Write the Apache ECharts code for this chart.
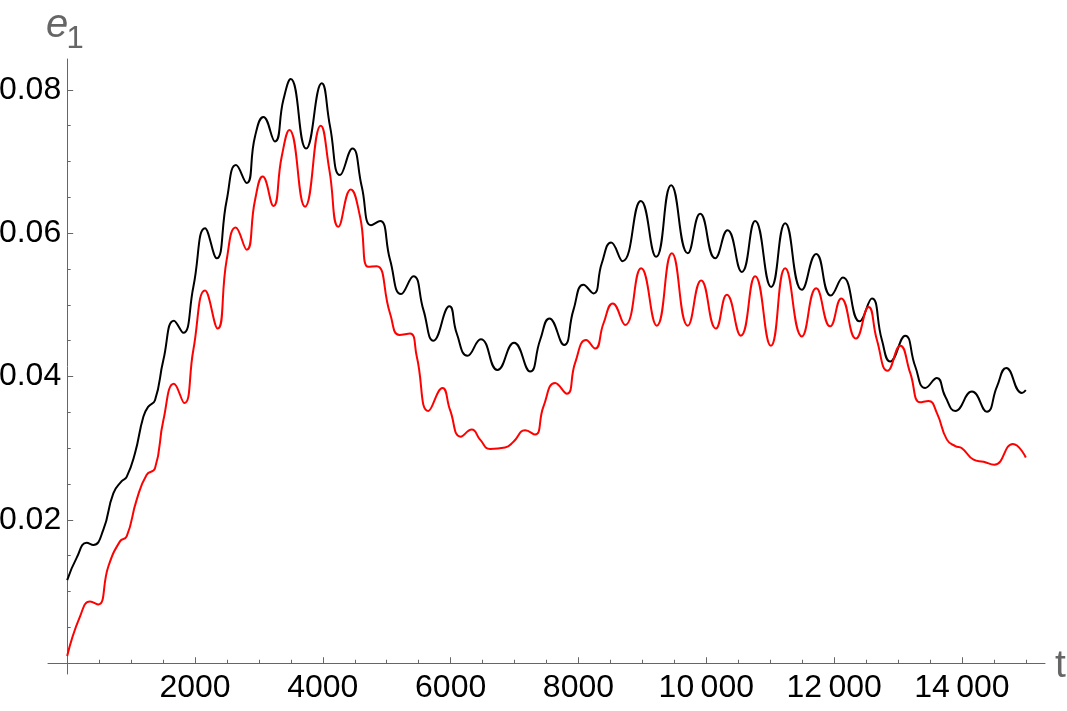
<!DOCTYPE html>
<html style="height: 100%">
    <head>
        <title>e1 vs t</title>
        <meta charset="utf-8">
    </head>
    <body style="height: 100%; margin: 0; background: #fff">
        <div id="container" style="width:1067px;height:711px"></div>

        <script type="text/javascript" src="https://cdn.jsdelivr.net/npm/echarts@6/dist/echarts.min.js"></script>
        <script type="text/javascript">
// black curve (upper)
var tBlack = [0, 148, 305, 409, 565, 722, 853, 931, 1061, 1192, 1270, 1374, 1505, 1671, 1817, 1974,
    2157, 2339, 2496, 2642, 2809, 2939, 3070, 3252, 3383, 3498, 3738, 3983, 4113, 4270, 4463, 4609,
    4755, 4896, 5052, 5224, 5418, 5574, 5731, 5981, 6096, 6263, 6472, 6732, 6993, 7244, 7400, 7546,
    7776, 7922, 8078, 8235, 8365, 8511, 8690, 8976, 9216, 9451, 9711, 9905, 10139, 10332, 10557, 10765,
    11016, 11235, 11496, 11720, 11950, 12138, 12398, 12591, 12748, 12878, 13113, 13270, 13426, 13609,
    13739, 13896, 14157, 14391, 14548, 14694, 14939, 15000];
var eBlack = [0.0116, 0.0147, 0.0168, 0.0165, 0.0186, 0.0237, 0.0254, 0.0260, 0.0293, 0.0344, 0.0358, 0.0367, 0.0423, 0.0478, 0.0461, 0.0525,
    0.0607, 0.0565, 0.0646, 0.0695, 0.0670, 0.0735, 0.0762, 0.0728, 0.0786, 0.0815, 0.0718, 0.0809, 0.0749, 0.0681, 0.0718, 0.0665,
    0.0611, 0.0617, 0.0563, 0.0515, 0.0540, 0.0493, 0.0450, 0.0498, 0.0460, 0.0429, 0.0452, 0.0409, 0.0447, 0.0407, 0.0451, 0.0481,
    0.0444, 0.0493, 0.0528, 0.0516, 0.0558, 0.0587, 0.0561, 0.0645, 0.0567, 0.0667, 0.0572, 0.0627, 0.0565, 0.0604, 0.0546, 0.0617,
    0.0525, 0.0614, 0.0521, 0.0571, 0.0513, 0.0538, 0.0477, 0.0509, 0.0451, 0.0421, 0.0457, 0.0414, 0.0384, 0.0398,
    0.0372, 0.0352, 0.0379, 0.0351, 0.0386, 0.0412, 0.0377, 0.0381];

// red curve (lower)
var tRed = [0, 200, 357, 487, 644, 826, 931, 1087, 1244, 1374, 1505, 1671, 1833, 1974, 2157, 2355,
    2496, 2637, 2809, 2939, 3059, 3226, 3357, 3477, 3722, 3967, 4103, 4244, 4437, 4583, 4713, 4844,
    5052, 5200, 5365, 5470, 5652, 5872, 5992, 6158, 6331, 6461, 6618, 6852, 6983, 7165, 7322, 7452,
    7635, 7818, 7948, 8120, 8261, 8391, 8537, 8730, 8981, 9226, 9461, 9711, 9920, 10150, 10322, 10541,
    10765, 11011, 11235, 11496, 11720, 11939, 12112, 12341, 12539, 12670, 12837, 13035, 13191, 13348,
    13478, 13609, 13765, 13896, 14000, 14183, 14339, 14506, 14798, 15000];
var eRed = [0.0010, 0.0065, 0.0086, 0.0082, 0.0135, 0.0170, 0.0177, 0.0228, 0.0263, 0.0272, 0.0339, 0.0390, 0.0363, 0.0437, 0.0520, 0.0467,
    0.0563, 0.0608, 0.0577, 0.0646, 0.0679, 0.0638, 0.0707, 0.0744, 0.0637, 0.0750, 0.0688, 0.0609, 0.0661, 0.0623, 0.0553, 0.0554,
    0.0488, 0.0458, 0.0460, 0.0428, 0.0352, 0.0384, 0.0353, 0.0316, 0.0326, 0.0312, 0.0299, 0.0301, 0.0309, 0.0325, 0.0319, 0.0358,
    0.0391, 0.0376, 0.0419, 0.0451, 0.0439, 0.0474, 0.0502, 0.0472, 0.0551, 0.0471, 0.0572, 0.0471, 0.0534, 0.0467, 0.0514, 0.0457,
    0.0540, 0.0443, 0.0551, 0.0456, 0.0523, 0.0470, 0.0509, 0.0453, 0.0497, 0.0451, 0.0408, 0.0443, 0.0405, 0.0364,
    0.0366, 0.0349, 0.0312, 0.0303, 0.0300, 0.0284, 0.0281, 0.0277, 0.0306, 0.0287];

// ticks
var xLabels = [2000, 4000, 6000, 8000, 10000, 12000, 14000];
var xMinor = [500, 1000, 1500, 2500, 3000, 3500, 4500, 5000, 5500, 6500, 7000, 7500,
    8500, 9000, 9500, 10500, 11000, 11500, 12500, 13000, 13500, 14500, 15000];
var yLabels = [0.02, 0.04, 0.06, 0.08];
var yMinor = [0.005, 0.01, 0.015, 0.025, 0.03, 0.035, 0.045, 0.05, 0.055, 0.065, 0.07, 0.075];

var AXIS = '#666666';
var dom = document.getElementById('container');
var myChart = echarts.init(dom);

function pairs(t, v) {
    var out = [];
    for (var i = 0; i < t.length; i++) out.push([t[i], v[i]]);
    return out;
}

function fmtX(v) {
    var s = String(v);
    if (v >= 10000) s = s.slice(0, s.length - 3) + '\u2009' + s.slice(-3);
    return s;
}

// plot range with padding, as in the original
var xRange = { min: -300, max: 15300 };
var yRange = { min: -0.0015, max: 0.0843 };
var G = { left: 48, right: 22, top: 59, bottom: 37 };
var gw = 1067 - G.left - G.right, gh = 711 - G.top - G.bottom;
// shift axes so they cross at the origin
var xOff = -gh * (0 - yRange.min) / (yRange.max - yRange.min);
var yOff = -gw * (0 - xRange.min) / (xRange.max - xRange.min);

var option = {
    animation: false,
    grid: { left: G.left, right: G.right, top: G.top, bottom: G.bottom, containLabel: false, outerBoundsMode: 'none' },
    xAxis: [{
        type: 'value', min: xRange.min, max: xRange.max, position: 'bottom', offset: xOff,
        splitLine: { show: false },
        axisLine: { onZero: false, lineStyle: { color: AXIS, width: 1 } },
        axisTick: { inside: true, length: 3.5, lineStyle: { color: AXIS }, customValues: xMinor },
        axisLabel: { customValues: xLabels, margin: 9, color: '#000', fontSize: 32,
            fontFamily: 'Liberation Sans', formatter: fmtX }
    }, {
        type: 'value', min: xRange.min, max: xRange.max, position: 'bottom', offset: xOff,
        splitLine: { show: false },
        axisLine: { show: false, onZero: false },
        axisTick: { inside: true, length: 6, lineStyle: { color: AXIS }, customValues: xLabels },
        axisLabel: { show: false }
    }],
    yAxis: [{
        type: 'value', min: yRange.min, max: yRange.max, position: 'left', offset: yOff,
        splitLine: { show: false },
        axisLine: { onZero: false, lineStyle: { color: AXIS, width: 1 } },
        axisTick: { inside: true, length: 3.5, lineStyle: { color: AXIS }, customValues: yMinor },
        axisLabel: { customValues: yLabels, margin: 6, color: '#000', fontSize: 32,
            fontFamily: 'Liberation Sans', formatter: function (v) { return v.toFixed(2); } }
    }, {
        type: 'value', min: yRange.min, max: yRange.max, position: 'left', offset: yOff,
        splitLine: { show: false },
        axisLine: { show: false, onZero: false },
        axisTick: { inside: true, length: 6, lineStyle: { color: AXIS }, customValues: yLabels },
        axisLabel: { show: false }
    }],
    graphic: [
        { type: 'text', x: 46, y: 26, silent: true,
          style: { text: 'e', fill: AXIS, font: 'italic 40px "Liberation Sans"', verticalAlign: 'middle', align: 'left' } },
        { type: 'text', x: 75, y: 39, silent: true,
          style: { text: '1', fill: AXIS, font: '31px "Liberation Sans"', verticalAlign: 'middle', align: 'center' } },
        { type: 'text', x: 1055, y: 666, silent: true,
          style: { text: 't', fill: AXIS, font: '39px "Liberation Sans"', verticalAlign: 'middle', align: 'left' } }
    ],
    series: [{
        name: 'black',
        type: 'line',
        xAxisIndex: 0, yAxisIndex: 0,
        data: pairs(tBlack, eBlack),
        smooth: 0.5,
        showSymbol: false,
        lineStyle: { color: '#000000', width: 2 }
    }, {
        name: 'red',
        type: 'line',
        xAxisIndex: 0, yAxisIndex: 0,
        data: pairs(tRed, eRed),
        smooth: 0.5,
        showSymbol: false,
        lineStyle: { color: '#ff0000', width: 2 }
    }]
};
myChart.setOption(option);
        </script>
    </body>
</html>
